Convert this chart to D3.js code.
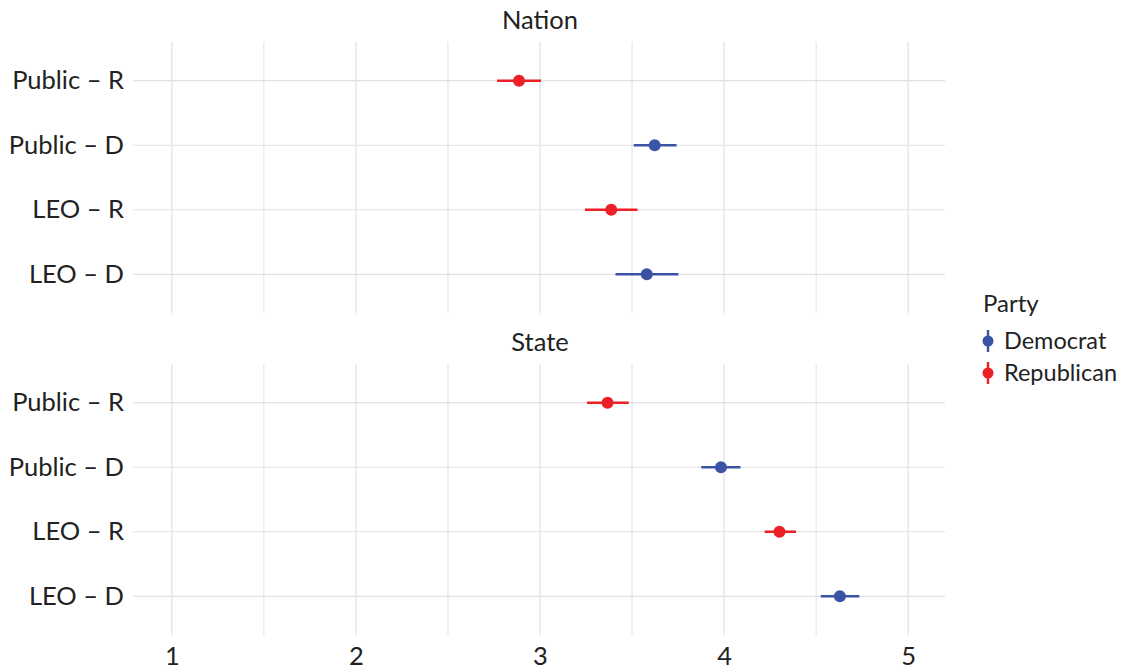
<!DOCTYPE html>
<html>
<head>
<meta charset="utf-8">
<script src="https://cdn.jsdelivr.net/npm/d3@7"></script>
<style>
  html, body { margin: 0; padding: 0; background: #fff; }
  svg text { font-family: Lato, "Open Sans", sans-serif; fill: #222; }
</style>
</head>
<body>
<svg id="chart" width="1126" height="670"></svg>
<script>
// Estimates by group, faceted by level of government
const panels = ["Nation", "State"];
const categories = ["Public – R", "Public – D", "LEO – R", "LEO – D"];
const parties = ["Republican", "Democrat", "Republican", "Democrat"];
const partyLevels = ["Democrat", "Republican"];
const partyColors = ["#3A53A4", "#EC1F27"];

const nationEst = [2.886, 3.623, 3.387, 3.580];
const nationLow = [2.767, 3.509, 3.244, 3.410];
const nationHigh = [3.005, 3.742, 3.530, 3.752];

const stateEst = [3.367, 3.983, 4.301, 4.629];
const stateLow = [3.255, 3.876, 4.220, 4.525];
const stateHigh = [3.482, 4.089, 4.391, 4.735];

const xTicks = [1, 2, 3, 4, 5];
const xMinor = [1.5, 2.5, 3.5, 4.5];

const panelData = [
  { name: panels[0], est: nationEst, low: nationLow, high: nationHigh },
  { name: panels[1], est: stateEst, low: stateLow, high: stateHigh }
];

const svg = d3.select("#chart");
const left = 133, right = 945;
const panelTops = [42, 364];
const panelH = 271;
const axisFont = "25.5px";

const x = d3.scaleLinear().domain([0.8, 5.2]).range([135, right]);
const color = d3.scaleOrdinal().domain(partyLevels).range(partyColors);
const gridColor = "#e1e1e1";

panelData.forEach((p, pi) => {
  const top = panelTops[pi];
  const y = d3.scalePoint().domain(categories).range([top, top + panelH]).padding(0.6);
  const g = svg.append("g");

  // strip title
  g.append("text")
    .attr("x", (135 + right) / 2).attr("y", top - 13)
    .attr("text-anchor", "middle")
    .style("font-size", axisFont)
    .text(p.name);

  // vertical grid lines
  g.selectAll(".vmin").data(xMinor).join("line")
    .attr("x1", d => x(d)).attr("x2", d => x(d))
    .attr("y1", top).attr("y2", top + panelH)
    .attr("stroke", gridColor).attr("stroke-width", 1);
  g.selectAll(".vmaj").data(xTicks).join("line")
    .attr("x1", d => x(d)).attr("x2", d => x(d))
    .attr("y1", top).attr("y2", top + panelH)
    .attr("stroke", gridColor).attr("stroke-width", 1.2);

  // horizontal grid lines
  g.selectAll(".hgrid").data(categories).join("line")
    .attr("x1", left).attr("x2", right)
    .attr("y1", d => y(d)).attr("y2", d => y(d))
    .attr("stroke", gridColor).attr("stroke-width", 1.2);

  // y axis labels
  const yAxis = d3.axisLeft(y).tickSize(0).tickPadding(9);
  const ya = g.append("g").attr("transform", `translate(${left},0)`).call(yAxis);
  ya.select(".domain").remove();
  ya.selectAll("text").style("font-size", axisFont)
    .style("font-family", "Lato, sans-serif").attr("fill", "#222");

  // intervals
  g.selectAll(".ci").data(categories).join("line")
    .attr("x1", (d, i) => x(p.low[i])).attr("x2", (d, i) => x(p.high[i]))
    .attr("y1", d => y(d)).attr("y2", d => y(d))
    .attr("stroke", (d, i) => color(parties[i])).attr("stroke-width", 2.6);

  // points
  g.selectAll(".pt").data(categories).join("circle")
    .attr("cx", (d, i) => x(p.est[i])).attr("cy", d => y(d))
    .attr("r", 6)
    .attr("fill", (d, i) => color(parties[i]));

  if (pi === 1) {
    const xAxis = d3.axisBottom(x).tickValues(xTicks).tickSize(0).tickPadding(12)
      .tickFormat(d3.format("d"));
    const xa = g.append("g").attr("transform", `translate(0,${top + panelH})`).call(xAxis);
    xa.select(".domain").remove();
    xa.selectAll("text").style("font-size", axisFont)
      .style("font-family", "Lato, sans-serif").attr("fill", "#222");
  }
});

// legend
const lg = svg.append("g").attr("transform", "translate(983,0)");
lg.append("text").attr("x", 0).attr("y", 312).style("font-size", "24px").text("Party");
partyLevels.forEach((lvl, i) => {
  const cy = 341 + i * 32;
  lg.append("line").attr("x1", 5).attr("x2", 5).attr("y1", cy - 11).attr("y2", cy + 11)
    .attr("stroke", color(lvl)).attr("stroke-width", 2.4);
  lg.append("circle").attr("cx", 5).attr("cy", cy).attr("r", 5.5).attr("fill", color(lvl));
  lg.append("text").attr("x", 21).attr("y", cy + 8).style("font-size", "23.5px").text(lvl);
});
</script>
</body>
</html>
